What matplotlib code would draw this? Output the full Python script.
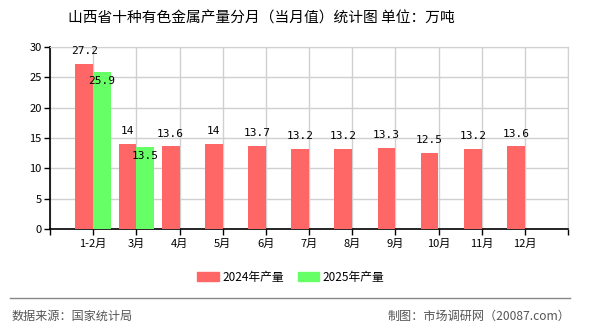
import numpy as np
import matplotlib.pyplot as plt
from matplotlib.patches import Patch
from matplotlib.lines import Line2D

plt.rcParams['font.family'] = ['Noto Sans CJK SC', 'DejaVu Sans']

months = ['1-2月', '3月', '4月', '5月', '6月', '7月', '8月', '9月', '10月', '11月', '12月']
output_2024 = [27.2, 14, 13.6, 14, 13.7, 13.2, 13.2, 13.3, 12.5, 13.2, 13.6]
output_2025 = [25.9, 13.5]

red = '#FF6666'
green = '#66FF66'

fig = plt.figure(figsize=(5.9, 3.3), dpi=100)
ax = fig.add_axes([50 / 590, 1 - 229 / 330, 518 / 590, 182 / 330])

x = np.arange(1, len(months) + 1)
w = 0.41
ax.bar(x - w / 2, output_2024, width=w, color=red, zorder=3)
ax.bar(x[:len(output_2025)] + w / 2, output_2025, width=w, color=green, zorder=3)

for xi, v in zip(x, output_2024):
    ax.text(xi - w / 2, v + 1.3, f'{v:g}', ha='center', va='bottom', fontsize=8,
            family='DejaVu Sans Mono', zorder=4)
for xi, v in zip(x, output_2025):
    ax.text(xi + w / 2, v - 0.6, f'{v:g}', ha='center', va='top', fontsize=8,
            family='DejaVu Sans Mono', zorder=4)

ax.set_xlim(0, 12)
ax.set_ylim(0, 30)
ax.set_xticks(np.arange(0, 13))
ax.set_xticklabels([''] + months + [''], fontsize=8)
ax.set_yticks(np.arange(0, 31, 5))
ax.tick_params(axis='y', labelsize=8, length=4, width=1, pad=2)
ax.tick_params(axis='x', length=4, width=1, pad=3)
ax.grid(color='#d0d0d0', linewidth=1, zorder=0)
for s in ['top', 'right']:
    ax.spines[s].set_color('#d0d0d0')
for s in ['left', 'bottom']:
    ax.spines[s].set_color('black')
    ax.spines[s].set_linewidth(1.2)

fig.text(261 / 590, 1 - 18 / 330, '山西省十种有色金属产量分月（当月值）统计图 单位：万吨',
         ha='center', va='center', fontsize=10.6)

handles = [Patch(color=red, label='2024年产量'), Patch(color=green, label='2025年产量')]
fig.legend(handles=handles, loc='center', bbox_to_anchor=(291 / 590, 1 - 277 / 330), ncol=2,
           frameon=False, fontsize=8.5, handlelength=1.8, handleheight=0.9,
           columnspacing=1.2, handletextpad=0.3)

fig.add_artist(Line2D([10 / 590, 570 / 590], [1 - 298 / 330] * 2, color='#888888', linewidth=1))
fig.text(12 / 590, 1 - 316 / 330, '数据来源：国家统计局', ha='left', va='center',
         fontsize=8.7, color='#555555')
fig.text(570 / 590, 1 - 316 / 330, '制图：市场调研网（20087.com）', ha='right', va='center',
         fontsize=8.7, color='#555555')

fig.savefig('out.png', dpi=100)
